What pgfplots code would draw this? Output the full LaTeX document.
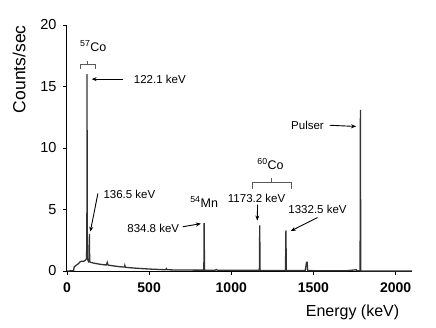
\documentclass[border=0pt]{standalone}
\usepackage{pgfplots}
\pgfplotsset{compat=1.18}
\usepackage{fontspec}
\setmainfont{Liberation Sans}
\usetikzlibrary{arrows.meta}

\definecolor{spec}{HTML}{333333}

\begin{document}
\begin{tikzpicture}[x=1pt,y=1pt]
\useasboundingbox (0,0) rectangle (436,327);
\begin{axis}[
  at={(67pt,56pt)}, anchor=south west,
  scale only axis, width=345pt, height=246pt,
  xmin=0, xmax=2100, ymin=0, ymax=20,
  axis lines=left, axis line style={-, line width=1pt},
  xtick={0,500,1000,1500,2000}, ytick={0,5,10,15,20},
  tick align=outside, major tick length=4pt,
  tick style={black, line width=0.8pt},
  /pgf/number format/assume math mode=true,
  /pgf/number format/set thousands separator={},
  xticklabel style={font=\fontsize{14}{16}\selectfont\bfseries, yshift=-4pt},
  yticklabel style={font=\fontsize{14.5}{16}\selectfont, xshift=-3pt},
  clip=false,
]
\addplot[spec, line width=1.3pt] coordinates {
 (0,0)(40,0.02)(44,0.35)(50,0.4)(60,0.5)(70,0.6)(80,0.75)(90,0.8)(100,0.78)
 (110,0.85)(116,0.95)(119,1.0)(121,3)(122,16.0)(123,3)(125,1.0)(128,0.85)
 (132,0.75)(135,0.8)(136.5,3.0)(138,0.75)(145,0.7)(160,0.65)(180,0.6)(200,0.55)
 (230,0.5)(240,0.5)(245,0.7)(250,0.48)(280,0.42)(320,0.35)(350,0.32)(352,0.45)
 (355,0.3)(400,0.25)(450,0.2)(500,0.16)(550,0.13)(600,0.1)(605,0.2)(610,0.1)
 (640,0.09)(700,0.08)(800,0.07)(833,0.07)(834.8,3.9)(837,0.07)(900,0.06)
 (910,0.12)(915,0.06)(1000,0.05)(1100,0.05)(1171,0.05)(1173.2,3.7)(1175,0.05)
 (1250,0.04)(1330,0.04)(1332.5,3.3)(1335,0.03)(1450,0.03)(1458,0.7)(1462,0.7)
 (1465,0.03)(1700,0.02)(1760,0.1)(1765,0.02)(1784,0.02)(1786,13.1)(1788,0)(2100,0)
};

% annotations
\tikzset{lab/.style={font=\fontsize{11.5}{13}\selectfont, inner sep=1pt},
         iso/.style={font=\fontsize{12.5}{14}\selectfont, inner sep=1pt},
         arr/.style={-{Stealth[length=5pt,width=4pt]}, line width=0.9pt}}
\node[iso] at (axis cs:160,18.3) {\textsuperscript{57}Co};
\draw[gray!70!black, line width=0.7pt] (axis cs:79,16.4) -- (axis cs:79,16.8) -- (axis cs:170,16.8) -- (axis cs:170,16.4)
  (axis cs:124,16.8) -- (axis cs:124,17.1);
\node[lab, anchor=west] at (axis cs:400,15.6) {122.1 keV};
\draw[arr] (axis cs:340,15.6) -- (axis cs:150,15.6);

\node[lab, anchor=west] at (axis cs:215,6.2) {136.5 keV};
\draw[arr] (axis cs:188,6.3) -- (axis cs:142,3.2);

\node[iso] at (axis cs:835,5.6) {\textsuperscript{54}Mn};
\node[lab, anchor=east] at (axis cs:690,3.5) {834.8 keV};
\draw[arr] (axis cs:705,3.6) -- (axis cs:815,3.85);

\node[iso] at (axis cs:1239,8.7) {\textsuperscript{60}Co};
\draw[gray!70!black, line width=0.7pt] (axis cs:1130,6.7) -- (axis cs:1130,7.2) -- (axis cs:1367,7.2) -- (axis cs:1367,6.7)
  (axis cs:1245,7.2) -- (axis cs:1245,7.6);
\node[lab] at (axis cs:1154,5.9) {1173.2 keV};
\draw[arr] (axis cs:1160,5.4) -- (axis cs:1158,4.1);
\node[lab] at (axis cs:1525,5.0) {1332.5 keV};
\draw[arr] (axis cs:1525,4.35) -- (axis cs:1362,3.25);

\node[lab] at (axis cs:1464,11.8) {Pulser};
\draw[arr] (axis cs:1598,11.85) -- (axis cs:1760,11.75);

\node[rotate=90, font=\fontsize{17.5}{19}\selectfont] at (axis cs:-292,16.4) {Counts/sec};
\node[font=\fontsize{16}{18}\selectfont] at (axis cs:1738,-3.35) {Energy (keV)};
\end{axis}
\end{tikzpicture}
\end{document}
